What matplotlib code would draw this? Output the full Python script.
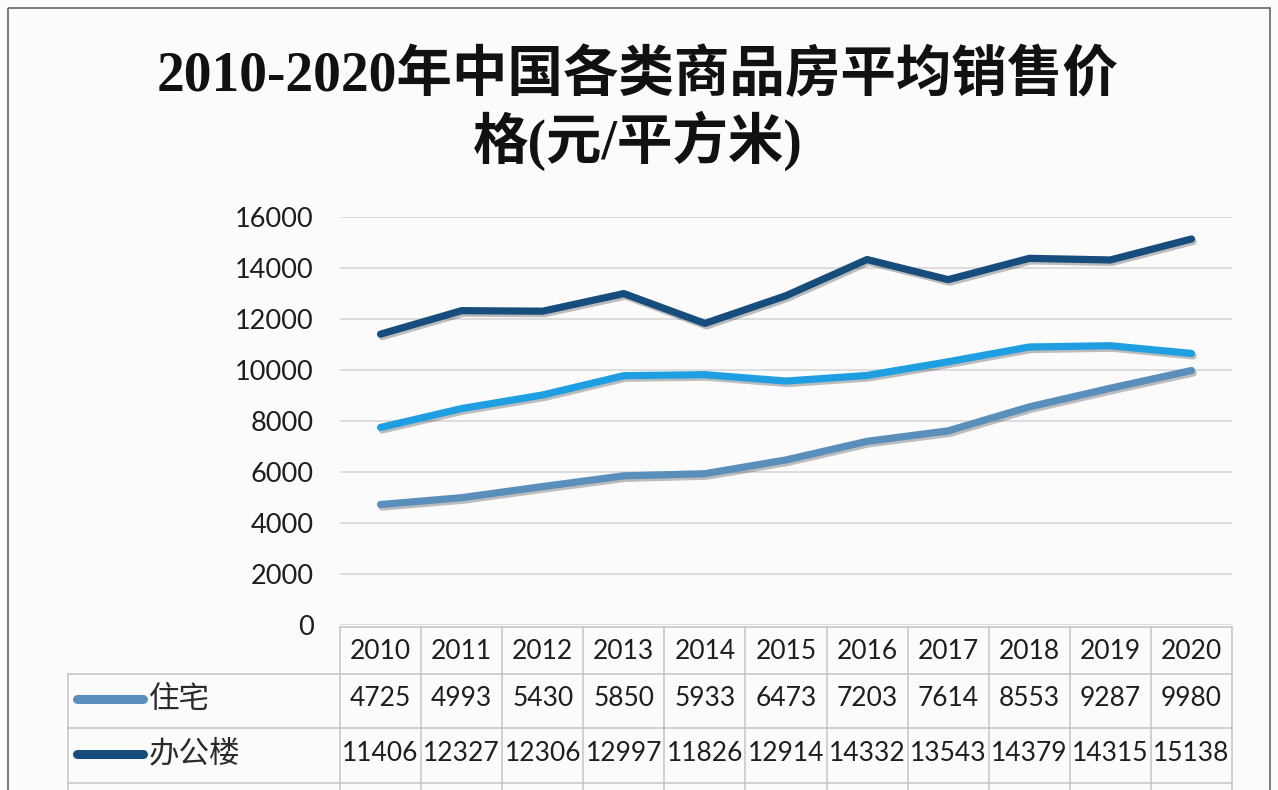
import matplotlib
matplotlib.use('Agg')
import matplotlib.pyplot as plt
import matplotlib.patheffects as pe
from matplotlib.patches import Rectangle

years = ['2010', '2011', '2012', '2013', '2014', '2015', '2016', '2017', '2018', '2019', '2020']
zhuzhai = [4725, 4993, 5430, 5850, 5933, 6473, 7203, 7614, 8553, 9287, 9980]
bangong = [11406, 12327, 12306, 12997, 11826, 12914, 14332, 13543, 14379, 14315, 15138]
shangye = [7747, 8488, 9021, 9777, 9817, 9566, 9786, 10323, 10902, 10952, 10650]
names = ['住宅', '办公楼', '商业营业用房']
yticks = list(range(0, 16001, 2000))

COLORS = ['#5a8fbc', '#174d7c', '#1f9fe2']
FONT = ['Lato', 'Noto Sans CJK SC']
W, H = 1278, 790

fig = plt.figure(figsize=(W / 100, H / 100), dpi=100)
fig.patch.set_facecolor('#fbfbfb')

# overlay in pixel coords for frame, title and table
ov = fig.add_axes([0, 0, 1, 1])
ov.set_xlim(0, W)
ov.set_ylim(H, 0)
ov.axis('off')
ov.add_patch(Rectangle((8, 8), W - 16, H, fill=False, ec='#666666', lw=1.2))

tfont = ['Liberation Serif', 'Noto Sans CJK SC']
ov.text(638, 76, '2010-2020年中国各类商品房平均销售价', ha='center', va='center',
        fontsize=40, fontweight='bold', family=tfont, color='#111111')
ov.text(638, 141, '格(元/平方米)', ha='center', va='center',
        fontsize=40, fontweight='bold', family=tfont, color='#111111')

# chart area
left, right, top, bottom = 340, 1232, 217, 625
ax = fig.add_axes([left / W, 1 - bottom / H, (right - left) / W, (bottom - top) / H])
ax.set_facecolor('none')
x = list(range(len(years)))
shadow = [pe.SimpleLineShadow(offset=(1.2, -1.8), shadow_color='k', alpha=0.25), pe.Normal()]
for vals, c in zip([zhuzhai, bangong, shangye], COLORS):
    ax.plot(x, vals, color=c, lw=5.2, solid_capstyle='round', solid_joinstyle='round',
            path_effects=shadow, zorder=3)
ax.set_xlim(-0.5, len(years) - 0.5)
ax.set_ylim(0, 16000)
ax.set_yticks(yticks)
ax.set_yticklabels([str(v) for v in yticks], family=FONT, fontsize=19.5, color='#1e1e1e')
ax.set_xticks([])
ax.tick_params(axis='y', length=0, pad=19)
ax.grid(axis='y', color='#d4d4d4', lw=1.1)
for s in ax.spines.values():
    s.set_visible(False)

# data table (the third row is cut off by the picture's lower edge)
colw = (right - left) / len(years)
rows = [627, 674, 728, 783]
tab_left = 68
lc = '#c4c4c4'
ov.plot([left, right], [rows[0], rows[0]], color=lc, lw=1.1)
for r in rows[1:]:
    ov.plot([tab_left, right], [r, r], color=lc, lw=1.1)
for i in range(len(years) + 1):
    xx = left + i * colw
    ov.plot([xx, xx], [rows[0], H], color=lc, lw=1.1)
ov.plot([tab_left, tab_left], [rows[1], H], color=lc, lw=1.1)

for i, yr in enumerate(years):
    ov.text(left + (i + 0.5) * colw, (rows[0] + rows[1]) / 2 + 1, yr, ha='center', va='center',
            family=FONT, fontsize=19, color='#1e1e1e')
for k, (vals, c, nm) in enumerate(zip([zhuzhai, bangong], COLORS, names)):
    yc = (rows[k + 1] + rows[k + 2]) / 2 - 2
    ov.plot([77, 143], [yc, yc], color=c, lw=6.5, solid_capstyle='round')
    ov.text(149, yc, nm, ha='left', va='center', family=['Noto Sans CJK SC'],
            fontsize=22, fontweight='medium', color='#2a2a2a')
    for i, v in enumerate(vals):
        ov.text(left + (i + 0.5) * colw, yc, str(v), ha='center', va='center',
                family=FONT, fontsize=19, color='#1e1e1e')

fig.savefig('out.png', dpi=100, facecolor=fig.get_facecolor())
